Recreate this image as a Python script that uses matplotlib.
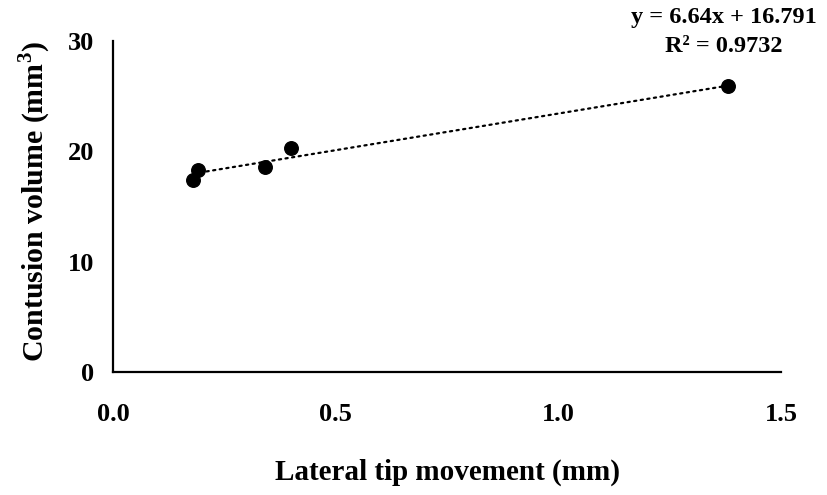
import numpy as np
import matplotlib
matplotlib.use("Agg")
import matplotlib.pyplot as plt

# data
tip_move = [0.18, 0.19, 0.34, 0.40, 1.38]          # mm
contusion = [17.4, 18.3, 18.55, 20.3, 25.95]        # mm^3
x_ticks = [0.0, 0.5, 1.0, 1.5]
y_ticks = [0, 10, 20, 30]

# Excel linear trendline shown on the chart
slope, intercept, r2 = 6.64, 16.791, 0.9732

plt.rcParams["font.family"] = ["Liberation Serif", "DejaVu Serif"]
plt.rcParams["font.weight"] = "bold"
plt.rcParams["mathtext.fontset"] = "custom"
plt.rcParams["mathtext.bf"] = "Liberation Serif:bold"
plt.rcParams["mathtext.rm"] = "Liberation Serif:bold"

fig = plt.figure(figsize=(8.28, 4.95), dpi=100)
ax = fig.add_axes([0.1368, 0.2485, 0.8064, 0.6685])

xs = np.linspace(min(tip_move), max(tip_move), 50)
ax.plot(xs, slope * xs + intercept, color="black", lw=1.6,
        ls=(0, (1, 2)), dash_capstyle="round", zorder=2)
ax.scatter(tip_move, contusion, s=95, color="black", zorder=3)

ax.set_xlim(0, 1.5)
ax.set_ylim(0, 30)
ax.set_xticks(x_ticks)
ax.set_xticklabels([f"{v:.1f}" for v in x_ticks])
ax.set_yticks(y_ticks)
ax.tick_params(length=0, labelsize=19)
ax.tick_params(axis="x", pad=22)
ax.tick_params(axis="y", pad=14)
for lab in ax.get_xticklabels() + ax.get_yticklabels():
    lab.set_fontweight("bold")

for side in ["top", "right"]:
    ax.spines[side].set_visible(False)
for side in ["left", "bottom"]:
    ax.spines[side].set_linewidth(1.6)
    ax.spines[side].set_color("black")

ax.set_xlabel("Lateral tip movement (mm)", fontsize=21, fontweight="bold",
              va="center")
ax.xaxis.set_label_coords(0.5, -0.302)
ax.set_ylabel("Contusion volume (mm$^{3}$)", fontsize=21.5,
              fontweight="bold", va="center")
ax.yaxis.set_label_coords(-0.118, 0.515)

ax.text(1.372, 30.85, f"y = {slope}x + {intercept}\nR² = {r2}",
        ha="center", va="center", fontsize=17.5, fontweight="bold",
        linespacing=1.5, clip_on=False)

fig.savefig("out.png", dpi=100)
